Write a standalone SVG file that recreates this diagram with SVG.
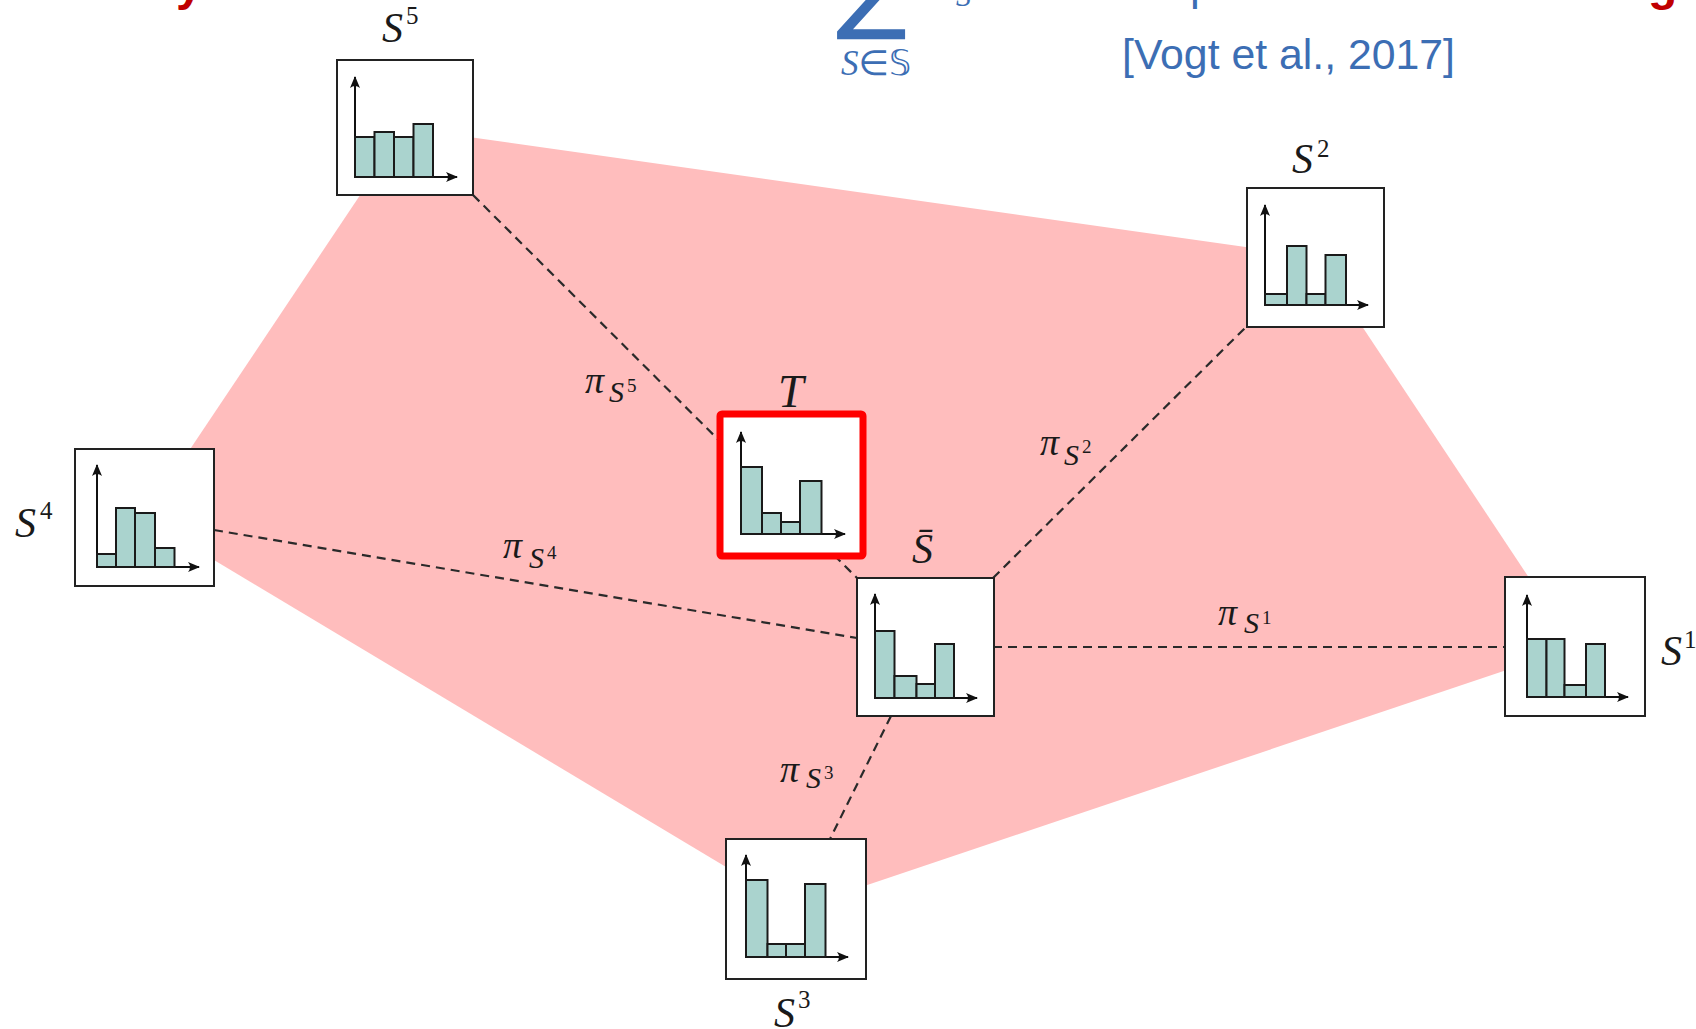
<svg xmlns="http://www.w3.org/2000/svg" width="1696" height="1029" viewBox="0 0 1696 1029">
<style>
.box{fill:#fff;stroke:#222;stroke-width:2}
.tbox{fill:#fff;stroke:#ff0000;stroke-width:7}
.bar{fill:#aad3ce;stroke:#1a1a1a;stroke-width:2}
.axis{stroke:#111;stroke-width:2;fill:none;marker-end:url(#ah)}
.conn{stroke:#2a2a2a;stroke-width:2.2;stroke-dasharray:9 6;fill:none}
.m{font-family:"Liberation Serif","DejaVu Serif",serif;font-style:italic;fill:#1a1a1a}
.blue{fill:#3c6eb4}
.red{fill:#c00000;font-family:"Liberation Sans",Arial,sans-serif;font-weight:bold}
</style>
<defs>
<marker id="ah" viewBox="-12 -6 14 12" refX="0" refY="0" markerWidth="14" markerHeight="12" orient="auto" markerUnits="userSpaceOnUse">
<path d="M1,0 L-11,-5 Q-7,0 -11,5 Z" fill="#111"/>
</marker>
</defs>
<rect width="1696" height="1029" fill="#fff"/>
<g id="title-fragments">
<text class="red" x="176" y="0" font-size="48">y</text>
<text x="836" y="19" font-size="106" font-family="DejaVu Sans,sans-serif" class="blue">∑</text>
<text x="956" y="6" font-size="30" font-family="Liberation Serif,serif" font-style="italic" class="blue">S</text>
<text x="1190" y="0" font-size="44" font-family="Liberation Sans,sans-serif" class="blue">p</text>
<text class="red" x="1648" y="0" font-size="48">g</text>
<text x="841" y="75" font-size="35" font-family="Liberation Serif,DejaVu Sans,serif" font-style="italic" class="blue">S∈𝕊</text>
<text x="1122" y="69" font-size="42" font-family="Liberation Sans,Arial,sans-serif" class="blue" textLength="333" lengthAdjust="spacingAndGlyphs">[Vogt et al., 2017]</text>
</g>
<polygon id="hull" points="405,128 1316,257 1575,647 796,909 144,518" fill="#ffbdbd"/>
<g id="connectors">
<line class="conn" x1="473" y1="195" x2="857" y2="578"/>
<line class="conn" x1="214" y1="530" x2="857" y2="638"/>
<line class="conn" x1="993" y1="578" x2="1247" y2="326"/>
<line class="conn" x1="993" y1="647" x2="1505" y2="647"/>
<line class="conn" x1="891" y1="716" x2="830" y2="839"/>
</g>
<g id="edge-labels">
<text class="m" font-size="38"><tspan x="585" y="393">π</tspan><tspan x="609" y="402" font-size="30">S</tspan><tspan x="627" y="392" font-size="19" font-style="normal">5</tspan></text>
<text class="m" font-size="38"><tspan x="1040" y="455">π</tspan><tspan x="1064" y="465" font-size="30">S</tspan><tspan x="1082" y="453" font-size="19" font-style="normal">2</tspan></text>
<text class="m" font-size="38"><tspan x="503" y="558">π</tspan><tspan x="529" y="568" font-size="30">S</tspan><tspan x="547" y="559" font-size="19" font-style="normal">4</tspan></text>
<text class="m" font-size="38"><tspan x="1218" y="625">π</tspan><tspan x="1244" y="633" font-size="30">S</tspan><tspan x="1262" y="624" font-size="19" font-style="normal">1</tspan></text>
<text class="m" font-size="38"><tspan x="780" y="782">π</tspan><tspan x="806" y="788" font-size="30">S</tspan><tspan x="824" y="779" font-size="19" font-style="normal">3</tspan></text>
</g>
<g id="node-S5">
<rect class="box" x="337" y="60" width="136" height="135"/>
<line class="axis" x1="355" y1="177" x2="355" y2="77"/>
<line class="axis" x1="355" y1="177" x2="457" y2="177"/>
<rect class="bar" x="355" y="137" width="19.5" height="40"/>
<rect class="bar" x="374.5" y="132" width="19.5" height="45"/>
<rect class="bar" x="394" y="137" width="19.5" height="40"/>
<rect class="bar" x="413.5" y="124" width="19.5" height="53"/>
<text class="m" font-size="42"><tspan x="382" y="42">S</tspan><tspan x="406" y="24" font-size="25" font-style="normal">5</tspan></text>
</g>
<g id="node-S2">
<rect class="box" x="1247" y="188" width="137" height="139"/>
<line class="axis" x1="1265" y1="305" x2="1265" y2="205"/>
<line class="axis" x1="1265" y1="305" x2="1368" y2="305"/>
<rect class="bar" x="1265" y="294" width="22" height="11"/>
<rect class="bar" x="1287" y="246" width="19.5" height="59"/>
<rect class="bar" x="1306.5" y="294" width="19" height="11"/>
<rect class="bar" x="1325.5" y="255" width="20.5" height="50"/>
<text class="m" font-size="42"><tspan x="1292" y="173">S</tspan><tspan x="1317" y="157" font-size="25" font-style="normal">2</tspan></text>
</g>
<g id="node-T">
<rect class="tbox" x="720" y="414" width="143" height="142" rx="2"/>
<line class="axis" x1="741" y1="534" x2="741" y2="432"/>
<line class="axis" x1="741" y1="534" x2="845" y2="534"/>
<rect class="bar" x="741" y="467" width="21" height="67"/>
<rect class="bar" x="762" y="513" width="19" height="21"/>
<rect class="bar" x="781" y="522" width="19" height="12"/>
<rect class="bar" x="800" y="481" width="21.5" height="53"/>
<text class="m" x="778" y="407" font-size="46">T</text>
</g>
<g id="node-Sbar">
<rect class="box" x="857" y="578" width="137" height="138"/>
<line class="axis" x1="875" y1="698" x2="875" y2="594"/>
<line class="axis" x1="875" y1="698" x2="977" y2="698"/>
<rect class="bar" x="875" y="631" width="19.5" height="67"/>
<rect class="bar" x="894.5" y="676" width="22" height="22"/>
<rect class="bar" x="916.5" y="684" width="18.5" height="14"/>
<rect class="bar" x="935" y="644" width="19" height="54"/>
<text class="m" x="912" y="563" font-size="42">S̄</text>
</g>
<g id="node-S4">
<rect class="box" x="75" y="449" width="139" height="137"/>
<line class="axis" x1="97" y1="567" x2="97" y2="465"/>
<line class="axis" x1="97" y1="567" x2="199" y2="567"/>
<rect class="bar" x="97" y="554" width="19" height="13"/>
<rect class="bar" x="116" y="508" width="19" height="59"/>
<rect class="bar" x="135" y="513" width="20" height="54"/>
<rect class="bar" x="155" y="548" width="19.5" height="19"/>
<text class="m" font-size="42"><tspan x="15" y="537">S</tspan><tspan x="40" y="519" font-size="25" font-style="normal">4</tspan></text>
</g>
<g id="node-S1">
<rect class="box" x="1505" y="577" width="140" height="139"/>
<line class="axis" x1="1527" y1="697" x2="1527" y2="595"/>
<line class="axis" x1="1527" y1="697" x2="1628" y2="697"/>
<rect class="bar" x="1527" y="639" width="19.5" height="58"/>
<rect class="bar" x="1546.5" y="639" width="18" height="58"/>
<rect class="bar" x="1564.5" y="685" width="21.5" height="12"/>
<rect class="bar" x="1586" y="644" width="19" height="53"/>
<text class="m" font-size="42"><tspan x="1661" y="665">S</tspan><tspan x="1684" y="648" font-size="25" font-style="normal">1</tspan></text>
</g>
<g id="node-S3">
<rect class="box" x="726" y="839" width="140" height="140"/>
<line class="axis" x1="746" y1="957" x2="746" y2="855"/>
<line class="axis" x1="746" y1="957" x2="848" y2="957"/>
<rect class="bar" x="746" y="880" width="21.5" height="77"/>
<rect class="bar" x="767.5" y="944" width="18.5" height="13"/>
<rect class="bar" x="786" y="944" width="19" height="13"/>
<rect class="bar" x="805" y="884" width="20.5" height="73"/>
<text class="m" font-size="42"><tspan x="774" y="1027">S</tspan><tspan x="798" y="1008" font-size="25" font-style="normal">3</tspan></text>
</g>
</svg>
